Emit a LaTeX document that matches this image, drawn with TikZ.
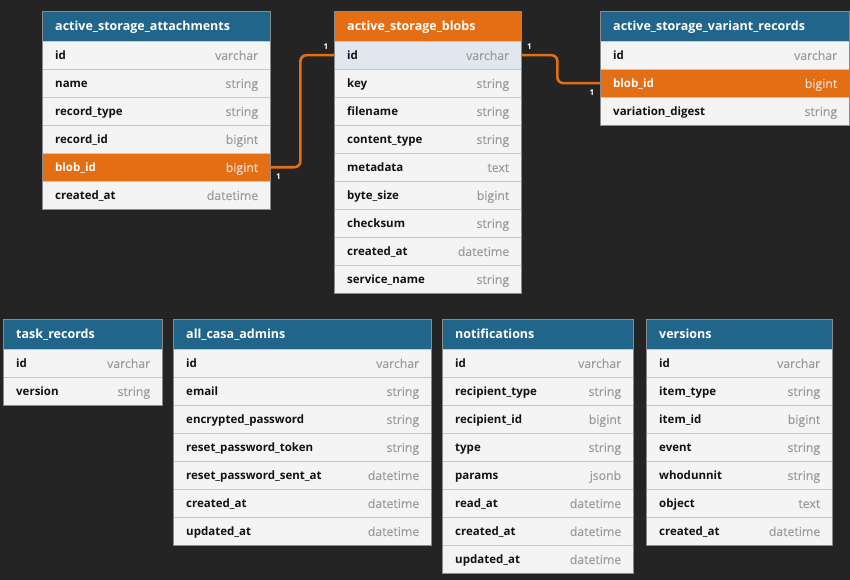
\documentclass[tikz,border=0pt]{standalone}
\usepackage{fontspec}
\setmainfont{Open Sans}
\newfontfamily\typefont[FakeBold=0.25]{Open Sans}
\usetikzlibrary{positioning}

\definecolor{canvas}{HTML}{242424}
\definecolor{headblue}{HTML}{21658A}
\definecolor{hotorange}{HTML}{E46E14}
\definecolor{sepgray}{HTML}{C6C6C6}
\definecolor{framegray}{HTML}{8A8A8A}
% row fills, name colours and type colours
\definecolor{bgplain}{HTML}{F4F4F4}
\definecolor{bghot}{HTML}{E46E14}
\definecolor{bgsel}{HTML}{E1E7EE}
\definecolor{nmplain}{HTML}{121212}
\definecolor{nmhot}{HTML}{FFFFFF}
\definecolor{nmsel}{HTML}{121212}
\definecolor{typlain}{HTML}{9C9C9C}
\definecolor{tyhot}{HTML}{E6DCD4}
\definecolor{tysel}{HTML}{9C9C9C}

\tikzset{
	tblhead/.style = {rectangle, fill=headblue, anchor=north west, minimum height=30pt, inner sep=0pt},
	tblrow/.style = {rectangle, anchor=north west, minimum height=28pt, inner sep=0pt},
	ftitle/.style = {anchor=west, inner xsep=13pt, text=white, text height=9.5pt, text depth=1pt, font=\bfseries\fontsize{12.5}{14}\selectfont},
	fname/.style = {anchor=west, inner xsep=13pt, text height=10pt, text depth=0.5pt, font=\bfseries\fontsize{11.5}{13}\selectfont},
	ftype/.style = {anchor=east, inner xsep=12pt, text height=10pt, text depth=0.5pt, font=\typefont\fontsize{12.3}{13}\selectfont},
	sepline/.style = {draw=sepgray, line width=0.8pt},
	tblframe/.style = {draw=framegray, line width=0.8pt},
	conn/.style = {draw=hotorange, line width=2.6pt, rounded corners=6pt},
	card/.style = {text=white, inner sep=0pt, font=\bfseries\fontsize{8}{9}\selectfont}
}

\begin{document}
\begin{tikzpicture}[x=1pt, y=-1pt]
	\fill[canvas] (0,0) rectangle (850,580);
	\useasboundingbox (0,0) rectangle (850,580);

	% active_storage_attachments
	\node[tblhead, minimum width=228pt] (att) at (42,11) {};
	\node[ftitle] at (att.west) {active\_storage\_attachments};
	\foreach \f/\t/\s [count=\i] in {id/varchar/plain, name/string/plain, record\_type/string/plain, record\_id/bigint/plain, blob\_id/bigint/hot, created\_at/datetime/plain} {
		\node[tblrow, fill=bg\s, minimum width=228pt] (att-\i) at (42,{13+28*\i}) {};
		\draw[sepline] (att-\i.north west) -- (att-\i.north east);
		\node[fname, text=nm\s] at (att-\i.west) {\f};
		\node[ftype, text=ty\s] at (att-\i.east) {\t};
	}
	\draw[tblframe] (att.north west) rectangle (att-6.south east);

	% active_storage_blobs
	\node[tblhead, fill=hotorange, minimum width=187pt] (blob) at (334,11) {};
	\node[ftitle] at (blob.west) {active\_storage\_blobs};
	\foreach \f/\t/\s [count=\i] in {id/varchar/sel, key/string/plain, filename/string/plain, content\_type/string/plain, metadata/text/plain, byte\_size/bigint/plain, checksum/string/plain, created\_at/datetime/plain, service\_name/string/plain} {
		\node[tblrow, fill=bg\s, minimum width=187pt] (blob-\i) at (334,{13+28*\i}) {};
		\draw[sepline] (blob-\i.north west) -- (blob-\i.north east);
		\node[fname, text=nm\s] at (blob-\i.west) {\f};
		\node[ftype, text=ty\s] at (blob-\i.east) {\t};
	}
	\draw[tblframe] (blob.north west) rectangle (blob-9.south east);

	% active_storage_variant_records
	\node[tblhead, minimum width=249pt] (var) at (600,11) {};
	\node[ftitle] at (var.west) {active\_storage\_variant\_records};
	\foreach \f/\t/\s [count=\i] in {id/varchar/plain, blob\_id/bigint/hot, variation\_digest/string/plain} {
		\node[tblrow, fill=bg\s, minimum width=249pt] (var-\i) at (600,{13+28*\i}) {};
		\draw[sepline] (var-\i.north west) -- (var-\i.north east);
		\node[fname, text=nm\s] at (var-\i.west) {\f};
		\node[ftype, text=ty\s] at (var-\i.east) {\t};
	}
	\draw[tblframe] (var.north west) rectangle (var-3.south east);

	% task_records
	\node[tblhead, minimum width=159pt] (task) at (3,319) {};
	\node[ftitle] at (task.west) {task\_records};
	\foreach \f/\t [count=\i] in {id/varchar, version/string} {
		\node[tblrow, fill=bgplain, minimum width=159pt] (task-\i) at (3,{321+28*\i}) {};
		\draw[sepline] (task-\i.north west) -- (task-\i.north east);
		\node[fname, text=nmplain] at (task-\i.west) {\f};
		\node[ftype, text=typlain] at (task-\i.east) {\t};
	}
	\draw[tblframe] (task.north west) rectangle (task-2.south east);

	% all_casa_admins
	\node[tblhead, minimum width=258pt] (adm) at (173,319) {};
	\node[ftitle] at (adm.west) {all\_casa\_admins};
	\foreach \f/\t [count=\i] in {id/varchar, email/string, encrypted\_password/string, reset\_password\_token/string, reset\_password\_sent\_at/datetime, created\_at/datetime, updated\_at/datetime} {
		\node[tblrow, fill=bgplain, minimum width=258pt] (adm-\i) at (173,{321+28*\i}) {};
		\draw[sepline] (adm-\i.north west) -- (adm-\i.north east);
		\node[fname, text=nmplain] at (adm-\i.west) {\f};
		\node[ftype, text=typlain] at (adm-\i.east) {\t};
	}
	\draw[tblframe] (adm.north west) rectangle (adm-7.south east);

	% notifications
	\node[tblhead, minimum width=191pt] (note) at (442,319) {};
	\node[ftitle] at (note.west) {notifications};
	\foreach \f/\t [count=\i] in {id/varchar, recipient\_type/string, recipient\_id/bigint, type/string, params/jsonb, read\_at/datetime, created\_at/datetime, updated\_at/datetime} {
		\node[tblrow, fill=bgplain, minimum width=191pt] (note-\i) at (442,{321+28*\i}) {};
		\draw[sepline] (note-\i.north west) -- (note-\i.north east);
		\node[fname, text=nmplain] at (note-\i.west) {\f};
		\node[ftype, text=typlain] at (note-\i.east) {\t};
	}
	\draw[tblframe] (note.north west) rectangle (note-8.south east);

	% versions
	\node[tblhead, minimum width=186pt] (vers) at (646,319) {};
	\node[ftitle] at (vers.west) {versions};
	\foreach \f/\t [count=\i] in {id/varchar, item\_type/string, item\_id/bigint, event/string, whodunnit/string, object/text, created\_at/datetime} {
		\node[tblrow, fill=bgplain, minimum width=186pt] (vers-\i) at (646,{321+28*\i}) {};
		\draw[sepline] (vers-\i.north west) -- (vers-\i.north east);
		\node[fname, text=nmplain] at (vers-\i.west) {\f};
		\node[ftype, text=typlain] at (vers-\i.east) {\t};
	}
	\draw[tblframe] (vers.north west) rectangle (vers-7.south east);

	% relations
	\draw[conn] (att-5.east) -- ++(30,0) |- (blob-1.west);
	\draw[conn] (blob-1.east) -- ++(36,0) |- (var-2.west);
	\node[card] (att-one) at ([shift={(8pt,-9pt)}]att-5.east) {1};
	\node[card] (blob-one-l) at ([shift={(-8pt,9pt)}]blob-1.west) {1};
	\node[card] (blob-one-r) at ([shift={(8pt,9pt)}]blob-1.east) {1};
	\node[card] (var-one) at ([shift={(-8pt,-9pt)}]var-2.west) {1};
\end{tikzpicture}
\end{document}
